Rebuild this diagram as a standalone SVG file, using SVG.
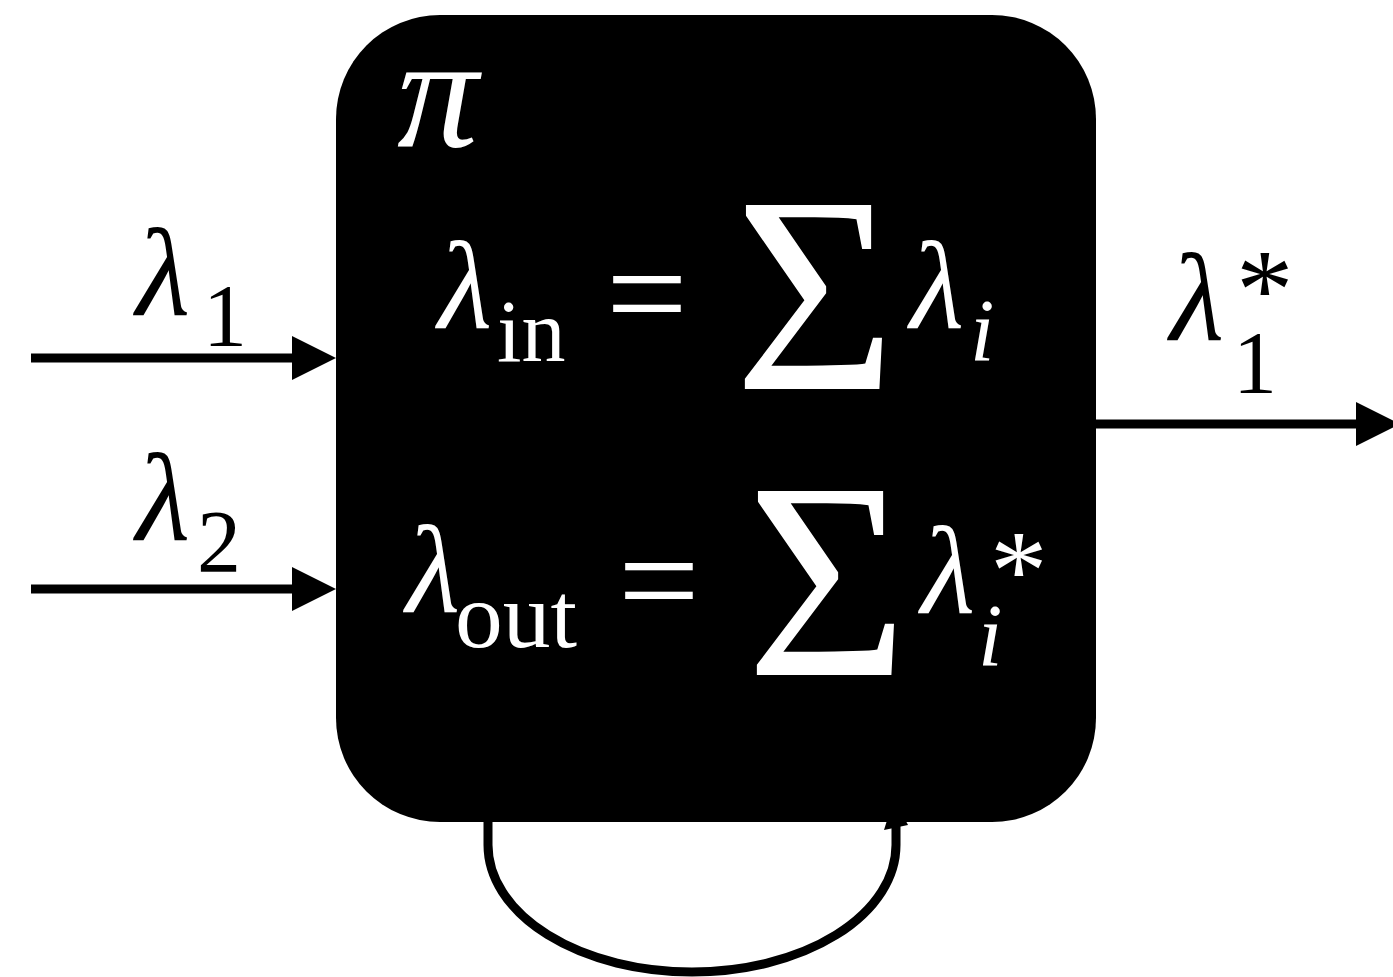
<svg xmlns="http://www.w3.org/2000/svg" width="1393" height="977" viewBox="0 0 1393 977">
<style>
.m{font-family:"Liberation Serif","Times New Roman",serif}
.it{font-style:italic}
.w{fill:#fff}
.k{fill:#000}
.big{font-size:125px}
.sub{font-size:88px}
.star{font-size:115px;font-style:normal}
.eq{font-size:145px}
.sum{font-size:281px}
.ln{stroke:#000;stroke-width:9;fill:none}
</style>
<defs>
<marker id="ah" viewBox="0 0 44 44" refX="0" refY="22" markerWidth="44" markerHeight="44" markerUnits="userSpaceOnUse" orient="auto">
<path d="M0,0 L44,22 L0,44 Z" fill="#000"/>
</marker>
</defs>
<rect width="1393" height="977" fill="#fff"/>
<g id="connectors">
<line class="ln" x1="31" y1="358" x2="292" y2="358" marker-end="url(#ah)"/>
<line class="ln" x1="31" y1="589" x2="292" y2="589" marker-end="url(#ah)"/>
<line class="ln" x1="1096" y1="424" x2="1356" y2="424" marker-end="url(#ah)"/>
<path class="ln" d="M488,815 L488,845 A204,127 0 0 0 896,845 L896,826"/>
<polygon points="884,830 908,825 894,798" fill="#000"/>
</g>
<g id="node-pi">
<rect x="336" y="15" width="760" height="807" rx="104" ry="104" fill="#000"/>
<text class="m it w" x="397" y="146" font-size="162">π</text>
<text class="m w"><tspan class="it big" x="438" y="328">λ</tspan><tspan class="sub" x="497" y="361">in</tspan></text>
<text class="m w eq" x="606" y="342">=</text>
<text class="m w sum" x="734" y="389" textLength="162" lengthAdjust="spacingAndGlyphs">Σ</text>
<text class="m w"><tspan class="it big" x="910" y="328">λ</tspan><tspan class="it sub" x="970" y="360">i</tspan></text>
<text class="m w"><tspan class="it big" x="406" y="612">λ</tspan><tspan x="455" y="647" font-size="94px" textLength="122" lengthAdjust="spacingAndGlyphs">out</tspan></text>
<text class="m w eq" x="618" y="629">=</text>
<text class="m w sum" x="746" y="675" textLength="162" lengthAdjust="spacingAndGlyphs">Σ</text>
<text class="m w"><tspan class="it big" x="921" y="613">λ</tspan><tspan class="star" x="990" y="609">*</tspan><tspan class="it sub" x="978" y="665">i</tspan></text>
</g>
<g id="label-l1">
<text class="m k"><tspan class="it big" x="136" y="315">λ</tspan><tspan class="sub" x="203" y="345">1</tspan></text>
</g>
<g id="label-l2">
<text class="m k"><tspan class="it big" x="136" y="540">λ</tspan><tspan class="sub" x="197" y="571">2</tspan></text>
</g>
<g id="label-l1star">
<text class="m k"><tspan class="it big" x="1170" y="340">λ</tspan><tspan class="star" x="1236" y="328">*</tspan><tspan class="sub" x="1233" y="392">1</tspan></text>
</g>
</svg>
